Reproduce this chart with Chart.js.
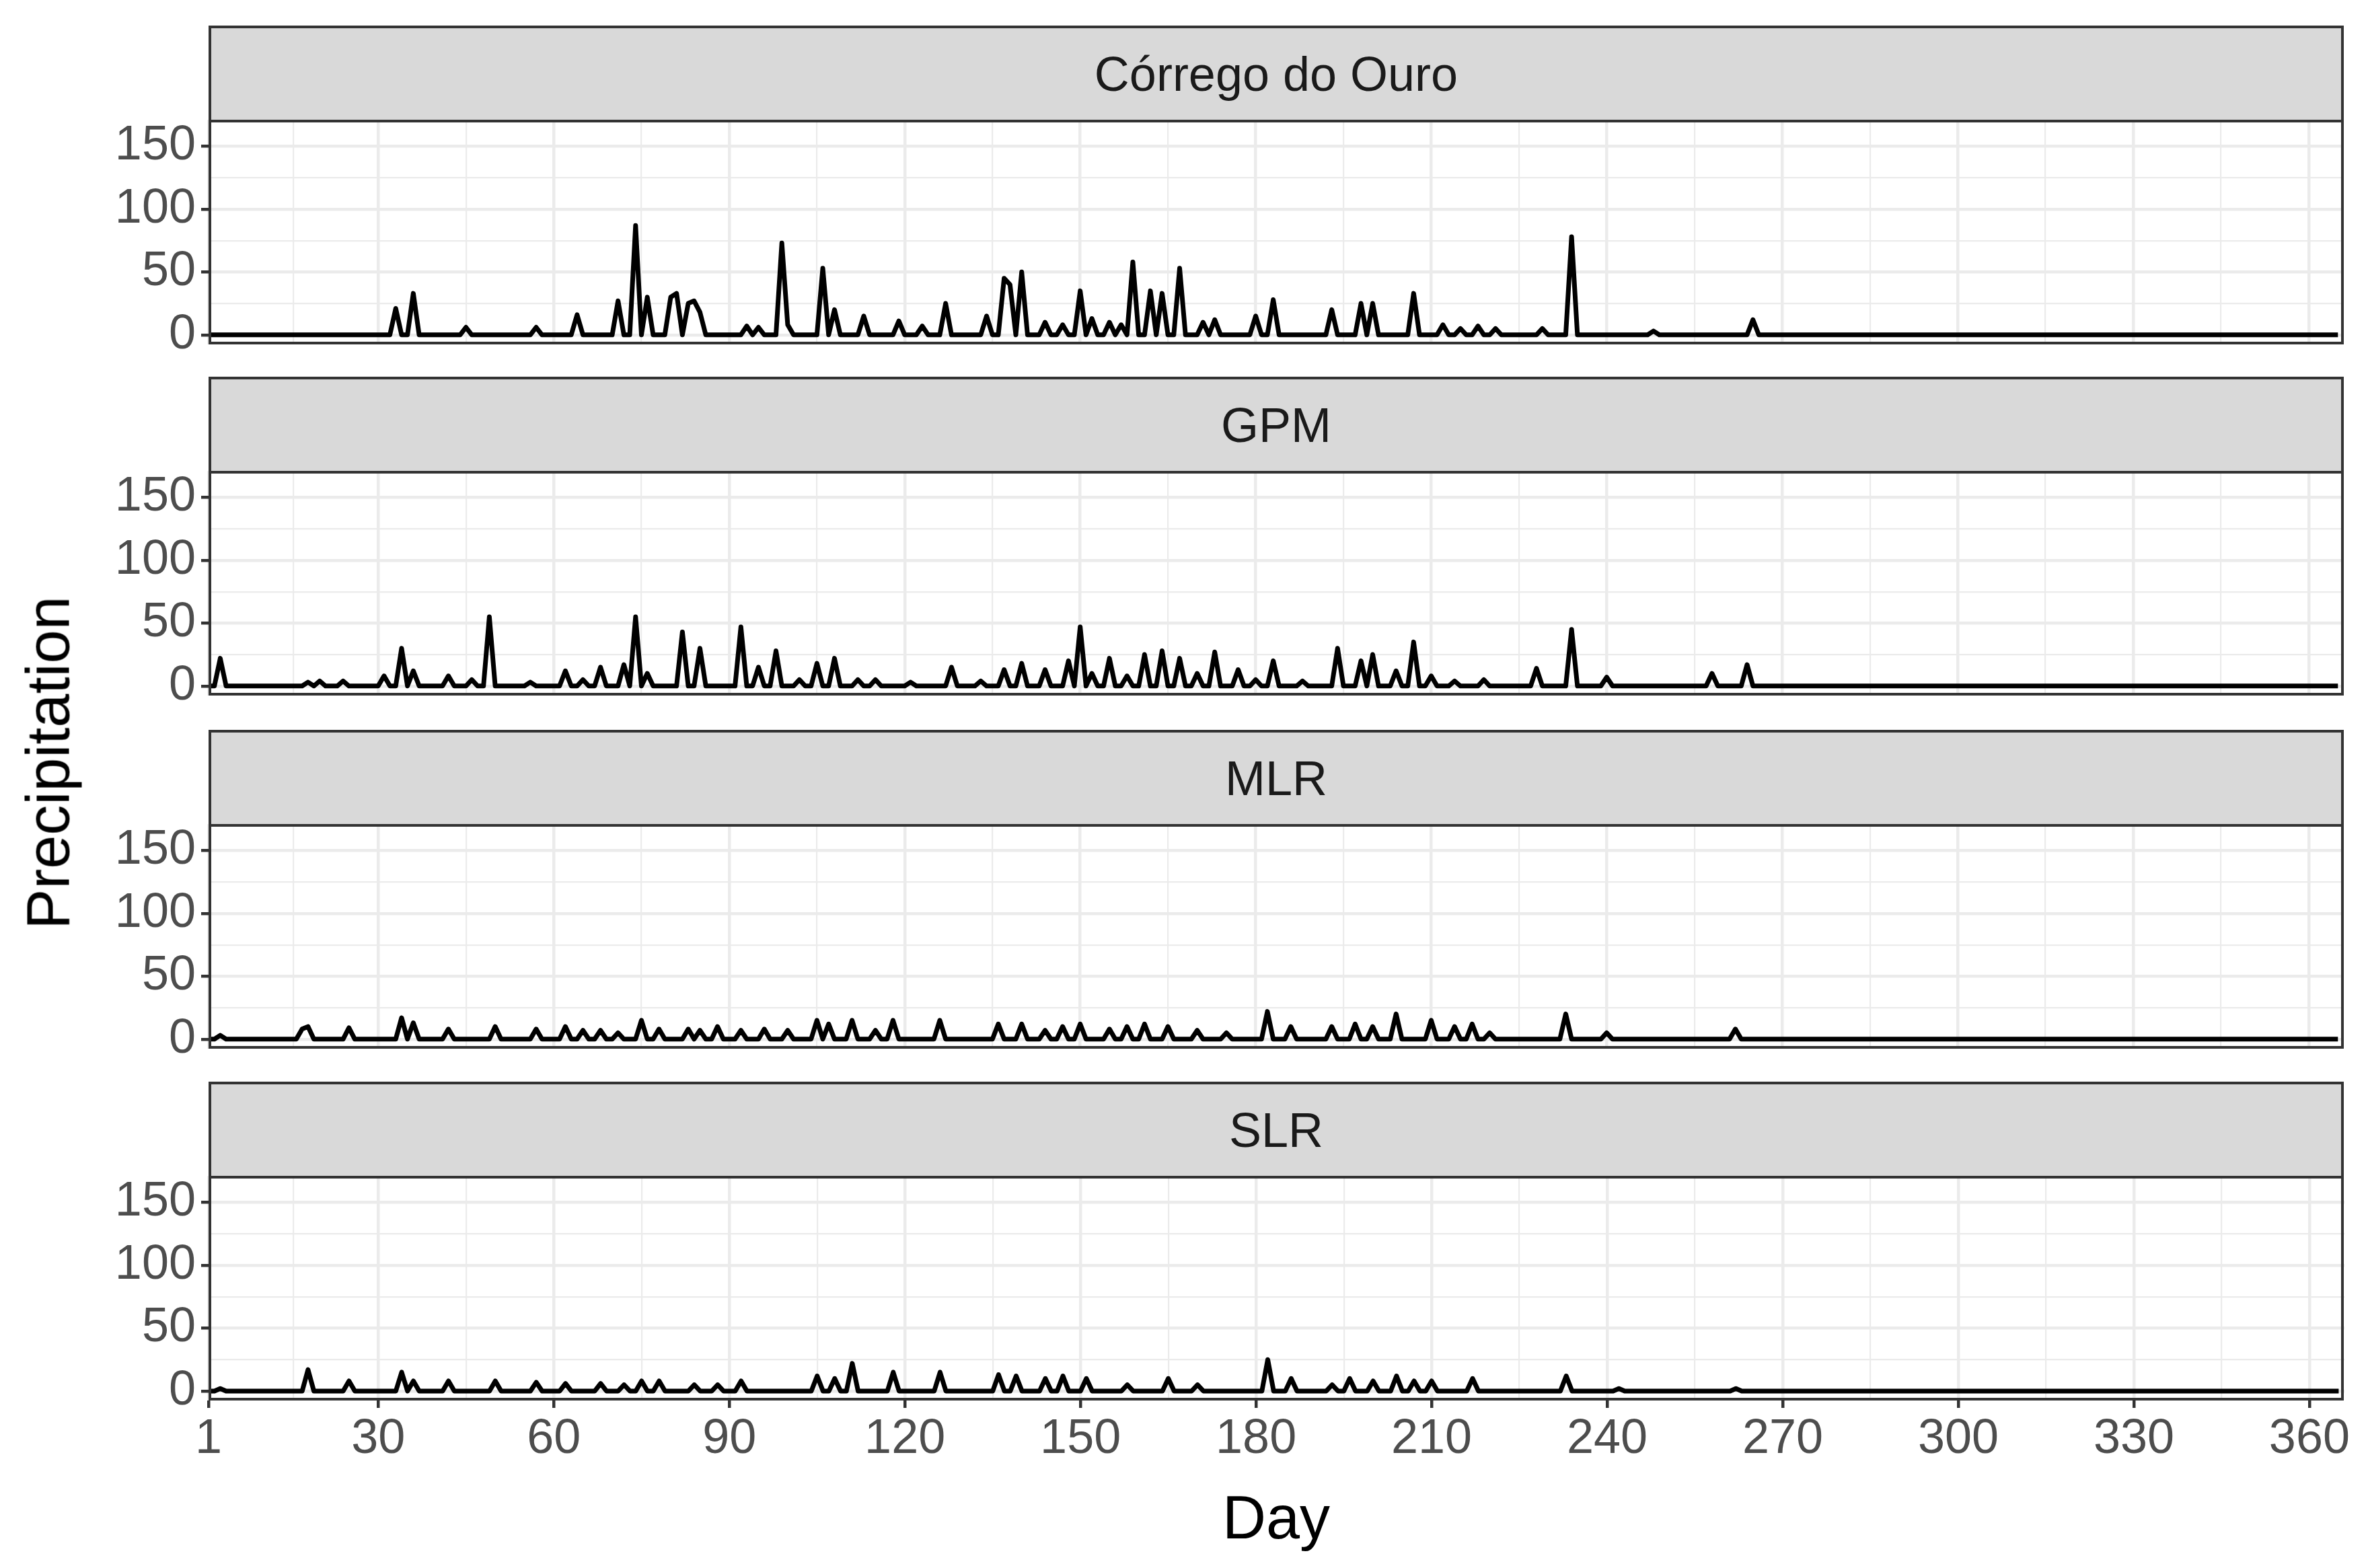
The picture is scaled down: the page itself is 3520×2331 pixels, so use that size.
<!DOCTYPE html>
<html>
<head>
<meta charset="utf-8">
<script src="https://cdn.jsdelivr.net/npm/chart.js@4/dist/chart.umd.min.js"></script>
<style>
  body { margin: 0; background: #fff; width: 3520px; height: 2331px; position: relative; overflow: hidden;
         font-family: "Liberation Sans", Arial, sans-serif; }
  .strip { position: absolute; left: 310px; width: 3174px; height: 144px; background: #d9d9d9;
           border: 4px solid #333; box-sizing: border-box; font-size: 72px; color: #1a1a1a;
           display: flex; align-items: center; justify-content: center; }
  .frame { position: absolute; left: 310px; width: 3174px; border: 4px solid #333;
           box-sizing: border-box; pointer-events: none; }
  canvas { position: absolute; }
  .title { position: absolute; font-size: 90px; color: #000; white-space: nowrap; }
</style>
</head>
<body>
<script>
// panel names
const panels = ['Córrego do Ouro', 'GPM', 'MLR', 'SLR'];

// nonzero days and values (all other days are 0)
const obsDays = [33,36,45,57,64,71,74,76,80,81,83,84,85,93,95,99,100,106,108,113,119,123,127,134,137,138,140,144,147,150,152,155,157,159,162,164,167,171,173,180,183,193,198,200,207,212,215,218,221,229,234,248,265];
const obsVals = [21,33,6,6,16,27,87,30,30,33,25,27,18,7,6,73,8,53,20,15,11,7,25,15,45,40,50,10,8,35,13,10,8,58,35,33,53,10,12,15,28,20,25,25,33,8,5,7,5,5,78,3,12];

const gpmDays = [3,18,20,24,31,34,36,42,46,49,56,62,65,68,72,74,76,82,85,92,95,98,102,105,108,112,115,121,128,133,137,140,144,148,150,152,155,158,161,164,167,170,173,177,180,183,188,194,198,200,204,207,210,214,219,228,234,240,258,264];
const gpmVals = [22,3,4,4,8,30,12,8,5,55,3,12,5,15,17,55,10,43,30,47,15,28,5,18,22,5,5,3,15,4,13,18,13,20,47,10,22,8,25,28,22,10,27,13,5,20,4,30,20,25,12,35,8,4,5,14,45,7,10,17];

const mlrDays = [3,17,18,25,34,36,42,50,57,62,65,68,71,75,78,83,85,88,92,96,100,105,107,111,115,118,126,136,140,144,147,150,155,158,161,165,170,175,182,186,193,197,200,204,210,214,217,220,233,240,262];
const mlrVals = [3,8,10,9,17,13,8,10,8,10,7,7,5,15,8,8,7,10,7,8,7,15,12,15,7,15,15,12,12,7,10,12,8,10,12,10,7,5,22,10,10,12,10,20,15,10,12,5,20,5,8];

const slrDays = [3,18,25,34,36,42,50,57,62,68,72,75,78,84,88,92,105,108,111,118,126,136,139,144,147,151,158,165,170,182,186,193,196,200,204,207,210,217,233,242,262];
const slrVals = [2,17,8,15,8,8,8,7,6,6,5,8,8,5,5,8,12,10,22,15,15,13,12,10,12,10,5,10,5,25,10,5,10,8,12,8,8,10,12,2,2];

// tick labels
const xMajor = [1,30,60,90,120,150,180,210,240,270,300,330,360];
const yMajor = [0,50,100,150];

function daily(days, vals) {
  const out = [];
  for (let d = 1; d <= 365; d++) {
    const i = days.indexOf(d);
    out.push({ x: d, y: i >= 0 ? vals[i] : 0 });
  }
  return out;
}

const series = [daily(obsDays, obsVals), daily(gpmDays, gpmVals), daily(mlrDays, mlrVals), daily(slrDays, slrVals)];
const stripTops = [38, 560, 1085, 1608];
const plotL = 310, plotW = 3174, plotH = 334;

const xTicks = [];
xMajor.forEach((v, i) => { xTicks.push(v); if (i < xMajor.length - 1) xTicks.push((v + xMajor[i + 1]) / 2); });
const yTicks = [0, 25, 50, 75, 100, 125, 150];
const tickFont = { size: 72, family: '"Liberation Sans", Arial, sans-serif' };

function makeConfig(p, last) {
  return {
    type: 'line',
    data: { datasets: [{ data: series[p], borderColor: '#000', borderWidth: 7, pointRadius: 0, tension: 0,
                         borderJoinStyle: 'round' }] },
    options: {
      responsive: false, animation: false, devicePixelRatio: 1,
      layout: { padding: 0 },
      plugins: { legend: { display: false }, tooltip: { enabled: false } },
      scales: {
        x: {
          type: 'linear', min: 1, max: 366,
          afterBuildTicks: s => { s.ticks = xTicks.map(v => ({ value: v })); },
          afterFit: s => { s.height = last ? 130 : 0; },
          grid: {
            color: '#ebebeb',
            lineWidth: c => xMajor.includes(c.tick && c.tick.value) ? 4.5 : 2.2,
            tickColor: c => (last && xMajor.includes(c.tick && c.tick.value)) ? '#333' : 'rgba(0,0,0,0)',
            tickLength: 11
          },
          border: { display: false },
          ticks: {
            display: last, autoSkip: false, maxRotation: 0, padding: 4,
            color: '#4d4d4d', font: tickFont,
            callback: v => xMajor.includes(v) ? String(v) : ''
          }
        },
        y: {
          min: -7.5, max: 171,
          afterBuildTicks: s => { s.ticks = yTicks.map(v => ({ value: v })); },
          afterFit: s => { s.width = 300; },
          grid: {
            color: '#ebebeb',
            lineWidth: c => yMajor.includes(c.tick && c.tick.value) ? 4.5 : 2.2,
            tickColor: c => yMajor.includes(c.tick && c.tick.value) ? '#333' : 'rgba(0,0,0,0)',
            tickLength: 11
          },
          border: { display: false },
          ticks: {
            autoSkip: false, padding: 8,
            color: '#4d4d4d', font: tickFont,
            callback: v => yMajor.includes(v) ? String(v) : ''
          }
        }
      }
    }
  };
}

function addCanvas(w, h, left, top) {
  const cv = document.createElement('canvas');
  cv.width = w; cv.height = h;
  cv.style.width = w + 'px'; cv.style.height = h + 'px';
  cv.style.left = left + 'px'; cv.style.top = top + 'px';
  document.body.appendChild(cv);
  return cv;
}

panels.forEach((name, p) => {
  const top = stripTops[p];
  const plotTop = top + 140;
  const strip = document.createElement('div');
  strip.className = 'strip';
  strip.style.top = top + 'px';
  strip.textContent = name;
  document.body.appendChild(strip);

  const last = p === panels.length - 1;

  // probe chart to measure the padding Chart.js reserves around the plot area
  const w0 = 3400, h0 = 800;
  const probe = addCanvas(w0, h0, 0, 0);
  const pc = new Chart(probe.getContext('2d'), makeConfig(p, last));
  const ca = pc.chartArea;
  const padL = ca.left, padR = w0 - ca.right, padT = ca.top, padB = h0 - ca.bottom;
  pc.destroy();
  probe.remove();

  const cv = addCanvas(plotW + padL + padR, plotH + padT + padB, plotL - padL, plotTop - padT);
  new Chart(cv.getContext('2d'), makeConfig(p, last));

  const frame = document.createElement('div');
  frame.className = 'frame';
  frame.style.top = plotTop + 'px';
  frame.style.height = plotH + 'px';
  document.body.appendChild(frame);
});

const yt = document.createElement('div');
yt.className = 'title';
yt.textContent = 'Precipitation';
yt.style.left = '72px'; yt.style.top = '1134px';
yt.style.transform = 'translate(-50%,-50%) rotate(-90deg)';
document.body.appendChild(yt);

const xt = document.createElement('div');
xt.className = 'title';
xt.textContent = 'Day';
xt.style.left = '1897px'; xt.style.top = '2256px';
xt.style.transform = 'translate(-50%,-50%)';
document.body.appendChild(xt);
</script>
</body>
</html>
